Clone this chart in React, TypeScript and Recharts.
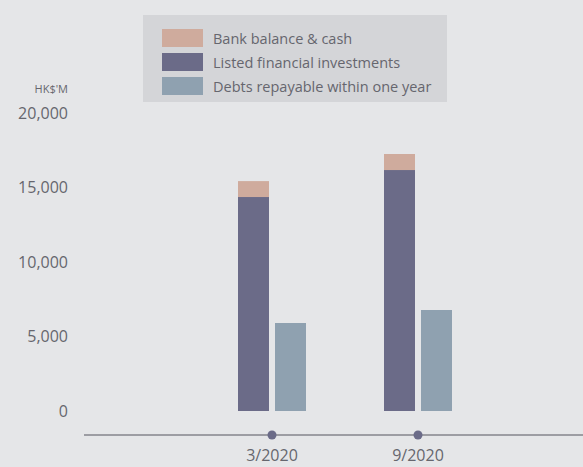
import { Bar, BarChart, XAxis, YAxis } from "recharts"

// Values (HK$'M)
const periods = ["3/2020", "9/2020"]
const bankBalance = [1070, 1080]
const listedInvestments = [14360, 16170]
const debtsWithinYear = [5900, 6780]
const yTicks = [0, 5000, 10000, 15000, 20000]

const series = [
  { key: "bank", name: "Bank balance & cash", color: "#cfab9d" },
  { key: "listed", name: "Listed financial investments", color: "#6b6b88" },
  { key: "debts", name: "Debts repayable within one year", color: "#8fa1b0" },
]

const data = periods.map((p, i) => ({
  name: p,
  bank: bankBalance[i],
  listed: listedInvestments[i],
  debts: debtsWithinYear[i],
}))

const font = "'Open Sans', sans-serif"
const textColor = "#66666e"

function PeriodTick(props: any) {
  const { x, y, payload } = props
  return (
    <g>
      <circle cx={x} cy={y} r={4.5} fill="#6b6b88" />
      <text x={x} y={y + 26} textAnchor="middle" fontSize={16} fontFamily={font} fill={textColor}>
        {payload.value}
      </text>
    </g>
  )
}

function UnitLabel(props: any) {
  const { viewBox } = props
  return (
    <text
      x={viewBox.x + viewBox.width - 16}
      y={viewBox.y - 20}
      textAnchor="end"
      fontSize={11}
      fontFamily={font}
      fill={textColor}
    >
      HK$'M
    </text>
  )
}

export default function App() {
  return (
    <div
      style={{
        position: "fixed",
        left: 0,
        top: 0,
        width: 583,
        height: 467,
        background: "#e5e6e8",
        overflow: "hidden",
      }}
    >
      <BarChart
        width={583}
        height={467}
        data={data}
        margin={{ top: 113, right: 0, left: 0, bottom: 0 }}
        barSize={31}
        barGap={6}
      >
        <XAxis
          dataKey="name"
          height={32}
          tickLine={false}
          tickSize={0}
          tickMargin={0}
          axisLine={{ stroke: "#55555e", strokeWidth: 1 }}
          padding={{ left: 115, right: 92 }}
          tick={<PeriodTick />}
        />
        <YAxis
          width={84}
          domain={[-1610, 20000]}
          ticks={yTicks}
          allowDataOverflow
          axisLine={false}
          tickLine={false}
          tickMargin={10}
          tick={{ fontSize: 16, fontFamily: font, fill: textColor }}
          tickFormatter={(v) => v.toLocaleString("en-US")}
          label={<UnitLabel />}
        />
        <Bar dataKey="listed" stackId="a" fill="#6b6b88" isAnimationActive={false} />
        <Bar dataKey="bank" stackId="a" fill="#cfab9d" isAnimationActive={false} />
        <Bar dataKey="debts" fill="#8fa1b0" isAnimationActive={false} />
      </BarChart>
      <div
        style={{
          position: "absolute",
          left: 143,
          top: 15,
          width: 304,
          height: 87,
          background: "#d4d5d8",
          boxSizing: "border-box",
          padding: "11px 0 0 19px",
          fontFamily: font,
          fontSize: 14.5,
          color: textColor,
        }}
      >
        {series.map((s) => (
          <div key={s.key} style={{ display: "flex", alignItems: "center", height: 24 }}>
            <span style={{ width: 41, height: 18, background: s.color, marginRight: 10 }} />
            <span>{s.name}</span>
          </div>
        ))}
      </div>
    </div>
  )
}
